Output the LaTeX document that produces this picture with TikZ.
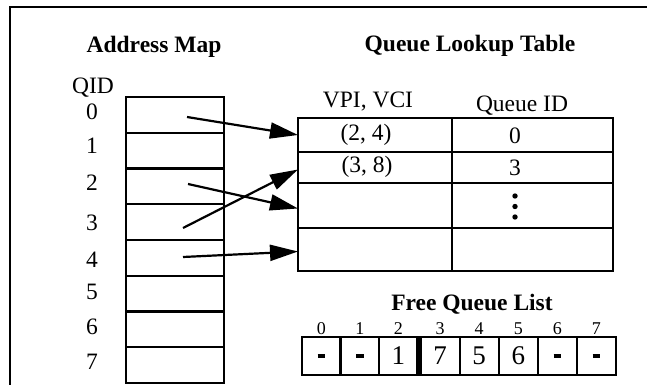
\documentclass[tikz,border=0pt]{standalone}
\usepackage{fontspec}
\setmainfont{Liberation Serif}
\usetikzlibrary{arrows.meta}
\begin{document}
\begin{tikzpicture}[x=1pt,y=-1pt,
  every node/.style={inner sep=0pt, outer sep=0pt},
  txt/.style={font=\fontsize{23.5}{26}\selectfont},
  head/.style={font=\fontsize{23.5}{26}\selectfont\bfseries},
  small/.style={font=\fontsize{18}{20}\selectfont},
  big/.style={font=\fontsize{27}{29}\selectfont},
  cellbox/.style={draw, line width=2.1pt, anchor=north west},
  frameline/.style={line width=2pt},
  ptr/.style={line width=2.2pt, -{Triangle[length=28pt,width=16pt]}}]
\useasboundingbox (0,0) rectangle (647,385);
% frame
\draw[frameline] (647,7) -- (10,7) -- (10,385);
% titles
\node[head, anchor=base] (tam) at (154,53) {Address Map};
\node[head, anchor=base] (tqlt) at (470,52) {Queue Lookup Table};
\node[head, anchor=base] (tfql) at (472,310) {Free Queue List};
% address map
\node[txt, anchor=base] (qid) at (93,94) {QID};
\foreach \i in {0,...,7}
  \node[cellbox, minimum width=98pt, minimum height=35.75pt] (am\i) at (126,{97+35.75*\i}) {};
\node[txt] (q0) at (92,112) {0};
\node[txt] (q1) at (92,146) {1};
\node[txt] (q2) at (92,183) {2};
\node[txt] (q3) at (92,223) {3};
\node[txt] (q4) at (92,260) {4};
\node[txt] (q5) at (92,292) {5};
\node[txt] (q6) at (92,327) {6};
\node[txt] (q7) at (92,362) {7};
% lookup table
\node[txt, anchor=base] (hvpi) at (368,108) {VPI, VCI};
\node[txt, anchor=base] (hqid) at (522,111) {Queue ID};
\node[cellbox, minimum width=154pt, minimum height=34pt] (vl0) at (298,118) {};
\node[cellbox, minimum width=154pt, minimum height=31pt] (vl1) at (298,152) {};
\node[cellbox, minimum width=154pt, minimum height=45pt] (vl2) at (298,183) {};
\node[cellbox, minimum width=154pt, minimum height=43pt] (vl3) at (298,228) {};
\node[cellbox, minimum width=161pt, minimum height=34pt] (qi0) at (452,118) {};
\node[cellbox, minimum width=161pt, minimum height=31pt] (qi1) at (452,152) {};
\node[cellbox, minimum width=161pt, minimum height=45pt] (qi2) at (452,183) {};
\node[cellbox, minimum width=161pt, minimum height=43pt] (qi3) at (452,228) {};
\node[txt] (c24) at (366,135) {(2, 4)};
\node[txt] (c38) at (367,167) {(3, 8)};
\node[txt] (z0) at (515,136) {0};
\node[txt] (z3) at (515,167.5) {3};
\fill (515,196) circle (2.7pt);
\fill (515,206.5) circle (2.7pt);
\fill (515,217) circle (2.7pt);
% pointers
\coordinate (s0) at (187,117);
\coordinate (s2) at (188,184);
\coordinate (s3) at (183,228);
\coordinate (s4) at (183,257);
\draw[ptr] (s0) -- (vl0.west);
\draw[ptr] (s2) -- ([yshift=-3pt]vl2.west);
\draw[ptr] (s3) -- ([yshift=-2pt]vl1.west);
\draw[ptr] (s4) -- ([yshift=-2pt]vl3.west);
% free queue list
\node[cellbox, minimum width=38.5pt, minimum height=38pt] (f0) at (302,337) {};
\node[cellbox, minimum width=38.5pt, minimum height=38pt] (f1) at (340.5,337) {};
\node[cellbox, minimum width=38.5pt, minimum height=38pt] (f2) at (379,337) {};
\node[cellbox, minimum width=39.1pt, minimum height=38pt] (f3) at (420.5,337) {};
\node[cellbox, minimum width=39.1pt, minimum height=38pt] (f4) at (459.6,337) {};
\node[cellbox, minimum width=39.1pt, minimum height=38pt] (f5) at (498.7,337) {};
\node[cellbox, minimum width=39.1pt, minimum height=38pt] (f6) at (537.8,337) {};
\node[cellbox, minimum width=39.1pt, minimum height=38pt] (f7) at (576.9,337) {};
\foreach \i in {0,...,7}
  \node[small] (fi\i) at ([yshift=8pt]f\i.north) {\i};
\foreach \i in {0,1,6,7}
  \node (fv\i) at (f\i.center) {\rule{7.5pt}{3.5pt}};
\node[big] (fv2) at (f2.center) {1};
\node[big] (fv3) at (f3.center) {7};
\node[big] (fv4) at (f4.center) {5};
\node[big] (fv5) at (f5.center) {6};
\end{tikzpicture}
\end{document}
